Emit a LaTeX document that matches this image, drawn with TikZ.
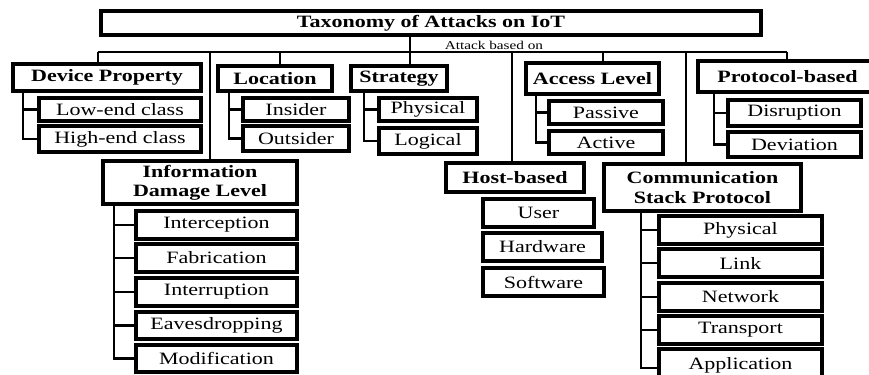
\documentclass[tikz,border=0pt]{standalone}
\usepackage{fontspec}
\setmainfont[FakeStretch=1.27]{Liberation Serif}
\begin{document}
\begin{tikzpicture}[x=0.75pt,y=-0.75pt,
  cat/.style={draw, line width=2.5pt, fill=white, inner sep=0pt, outer sep=0pt,
    align=center, font=\bfseries\fontsize{13}{14.5}\selectfont},
  leaf/.style={cat, font=\fontsize{13}{14.5}\selectfont},
  wire/.style={line width=1.7pt}]
% box from its outer corners (x1,y1)-(x2,y2), in pixel units
\newcommand\bx[7]{\node[#7, minimum width={(#4-#2-2)*0.75pt},
  minimum height={(#5-#3-2)*0.75pt}] (#1) at ({(#2+#4)/2},{(#3+#5)/2}) {#6};}
\useasboundingbox (0,0) rectangle (869,375);
\clip (0,0) rectangle (869,375);
\fill[white] (0,0) rectangle (869,375);

% root
\bx{title}{100}{10}{762}{36}{Taxonomy of Attacks on IoT}{cat}
\node[font=\fontsize{9}{10}\selectfont, inner sep=0pt] (based) at (494,45) {Attack based on};

% first-level categories
\bx{devp}{12}{63}{202}{92}{Device Property}{cat}
\bx{loc}{217}{65}{333}{92}{Location}{cat}
\bx{strat}{350}{65}{448}{92}{Strategy}{cat}
\bx{access}{525}{62}{660}{95}{Access Level}{cat}
\bx{proto}{697}{60}{878}{93}{Protocol-based}{cat}
\bx{info}{102}{160}{298}{205}{Information\\Damage Level}{cat}
\bx{host}{445}{162}{585}{193}{Host-based}{cat}
\bx{comm}{603}{163}{802}{212}{Communication\\Stack Protocol}{cat}

% leaves
\bx{lowend}{38}{97}{202}{122}{Low-end class}{leaf}
\bx{highend}{38}{125}{202}{153}{High-end class}{leaf}
\bx{insider}{242}{97}{350}{122}{Insider}{leaf}
\bx{outsider}{242}{125}{350}{152}{Outsider}{leaf}
\bx{sphys}{378}{97}{478}{122}{Physical}{leaf}
\bx{slog}{378}{127}{478}{155}{Logical}{leaf}
\bx{passive}{548}{100}{664}{125}{Passive}{leaf}
\bx{active}{548}{130}{664}{155}{Active}{leaf}
\bx{disrupt}{727}{99}{862}{127}{Disruption}{leaf}
\bx{deviat}{727}{131}{862}{158}{Deviation}{leaf}
\bx{interc}{135}{210}{298}{240}{Interception}{leaf}
\bx{fabr}{135}{243}{298}{273}{Fabrication}{leaf}
\bx{interr}{135}{277}{298}{307}{Interruption}{leaf}
\bx{eaves}{135}{311}{298}{340}{Eavesdropping}{leaf}
\bx{modif}{135}{344}{298}{373}{Modification}{leaf}
\bx{user}{482}{198}{595}{228}{User}{leaf}
\bx{hw}{482}{232}{603}{262}{Hardware}{leaf}
\bx{sw}{482}{267}{605}{297}{Software}{leaf}
\bx{cphys}{658}{215}{823}{245}{Physical}{leaf}
\bx{link}{658}{248}{823}{278}{Link}{leaf}
\bx{net}{658}{282}{823}{312}{Network}{leaf}
\bx{transp}{658}{315}{823}{345}{Transport}{leaf}
\bx{appl}{658}{348}{823}{382}{Application}{leaf}

% bus under the root and its drops
\coordinate (d1) at (98,52);
\coordinate (d2) at (210,52);
\coordinate (d3) at (280,52);
\coordinate (hub) at (410,52);
\coordinate (d5) at (512,52);
\coordinate (d6) at (603,52);
\coordinate (d7) at (686,52);
\coordinate (d8) at (787,52);
\draw[wire] (d1) -- (d8);
\draw[wire] (hub |- title.south) -- (hub |- strat.north);
\draw[wire] (d1) -- (d1 |- devp.north);
\draw[wire] (d2) -- (d2 |- info.north);
\draw[wire] (d3) -- (d3 |- loc.north);
\draw[wire] (d5) -- (d5 |- host.north);
\draw[wire] (d6) -- (d6 |- access.north);
\draw[wire] (d7) -- (d7 |- comm.north);
\draw[wire] (d8) -- (d8 |- proto.north);

% child brackets
\draw[wire] ([xshift=7.5pt]devp.south west) |- (highend.west)
            ([xshift=7.5pt]devp.south west) |- (lowend.west);
\draw[wire] ([xshift=8.25pt]loc.south west) |- (outsider.west)
            ([xshift=8.25pt]loc.south west) |- (insider.west);
\draw[wire] ([xshift=9.5pt]strat.south west) |- (slog.west)
            ([xshift=9.5pt]strat.south west) |- (sphys.west);
\draw[wire] ([xshift=7.5pt]access.south west) |- (active.west)
            ([xshift=7.5pt]access.south west) |- (passive.west);
\draw[wire] ([xshift=12pt]proto.south west) |- (deviat.west)
            ([xshift=12pt]proto.south west) |- (disrupt.west);
\foreach \c in {interc,fabr,interr,eaves,modif}
  \draw[wire] ([xshift=8.25pt]info.south west) |- (\c.west);
\foreach \c in {cphys,link,net,transp}
  \draw[wire] ([xshift=27.5pt]comm.south west) |- (\c.west);
\draw[wire] ([xshift=27.5pt]comm.south west) |- ([yshift=-2pt]appl.west);
\end{tikzpicture}
\end{document}
